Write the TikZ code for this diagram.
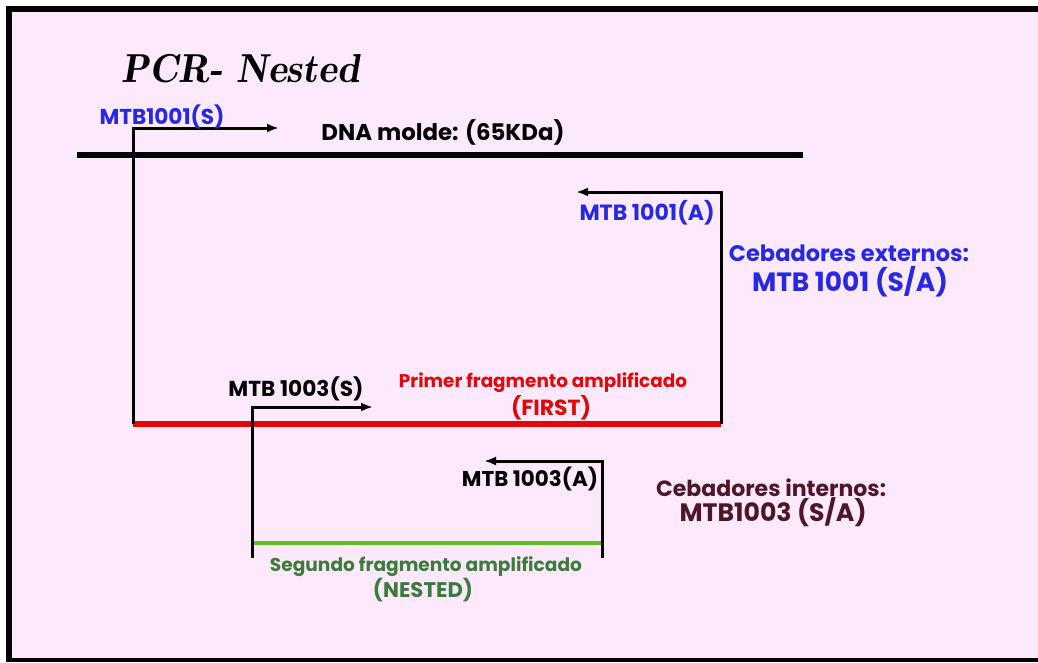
\documentclass[tikz,border=0pt]{standalone}
\usepackage{fontspec}
\usepackage{graphicx}
\usetikzlibrary{arrows.meta}
\newfontfamily\handfont{Poppins}
\definecolor{slidepink}{RGB}{252,234,252}
\definecolor{primerblue}{RGB}{40,40,228}
\definecolor{firstred}{RGB}{226,6,6}
\definecolor{nestgreen}{RGB}{92,196,34}
\definecolor{nesttext}{RGB}{62,122,62}
\definecolor{innermaroon}{RGB}{78,22,40}
\newcommand{\fitw}[2]{\resizebox{#1pt}{!}{#2}}
\tikzset{
  lbl/.style={inner sep=0pt, font=\handfont\bfseries},
  primer/.style={line width=3pt, -{Latex[length=12pt,width=9pt]}},
  dnaline/.style={line width=6.5pt},
  firstline/.style={line width=5.5pt, draw=firstred},
  nestline/.style={line width=4.5pt, draw=nestgreen},
}
\begin{document}
\begin{tikzpicture}[x=1pt,y=-1pt]
\useasboundingbox (0,0) rectangle (1038,662);
% slide background and frame
\fill[white] (0,0) rectangle (1038,662);
\fill[black] (6,6) rectangle (1045,662);
\fill[slidepink] (12,12) rectangle (1045,658);

% title
\node[inner sep=0pt] (title) at (241,69) {\fitw{238}{\itshape\fontseries{sb}\selectfont PCR- Nested}};

% template DNA
\coordinate (dnaL) at (77,155);
\coordinate (dnaR) at (803,155);
\draw[dnaline] (dnaL) -- (dnaR);
\node[lbl] (dnalabel) at (443,132) {\fitw{243}{DNA molde: (65KDa)}};

% first (outer) amplified fragment
\coordinate (f1L) at (133,424);
\coordinate (f1R) at (721,424);
\coordinate (s1tip) at (279,128);
\coordinate (a1tip) at (576,192);
\draw[firstline] (f1L) -- (f1R);
\draw[primer] (f1L) |- (s1tip);
\draw[primer] (f1R) |- (a1tip);
\node[lbl, text=primerblue] (s1lbl) at (162,117) {\fitw{125}{MTB1001(S)}};
\node[lbl, text=primerblue] (a1lbl) at (647,213) {\fitw{135}{MTB 1001(A)}};
\node[lbl, text=primerblue] (ext1) at (849,253) {\fitw{240}{Cebadores externos:}};
\node[lbl, text=primerblue] (ext2) at (850,282) {\fitw{196}{MTB 1001 (S/A)}};
\node[lbl, text=firstred] (first1) at (543,383) {\fitw{288}{Primer fragmento amplificado}};
\node[lbl, text=firstred] (first2) at (551,408) {\fitw{80}{(FIRST)}};

% second (nested) amplified fragment
\coordinate (f2L) at (252,543);
\coordinate (f2R) at (602,543);
\coordinate (s2foot) at (252,558);
\coordinate (a2foot) at (602,558);
\coordinate (s2tip) at (373,407);
\coordinate (a2tip) at (484,461);
\draw[nestline] (f2L) -- (f2R);
\draw[primer] (s2foot) |- (s2tip);
\draw[primer] (a2foot) |- (a2tip);
\node[lbl] (s2lbl) at (296,389) {\fitw{135}{MTB 1003(S)}};
\node[lbl] (a2lbl) at (530,479) {\fitw{136}{MTB 1003(A)}};
\node[lbl, text=innermaroon] (int1) at (771,488) {\fitw{230}{Cebadores internos:}};
\node[lbl, text=innermaroon] (int2) at (773,512) {\fitw{187}{MTB1003 (S/A)}};
\node[lbl, text=nesttext] (nest1) at (426,567) {\fitw{312}{Segundo fragmento amplificado}};
\node[lbl, text=nesttext] (nest2) at (423,590) {\fitw{100}{(NESTED)}};
\end{tikzpicture}
\end{document}
